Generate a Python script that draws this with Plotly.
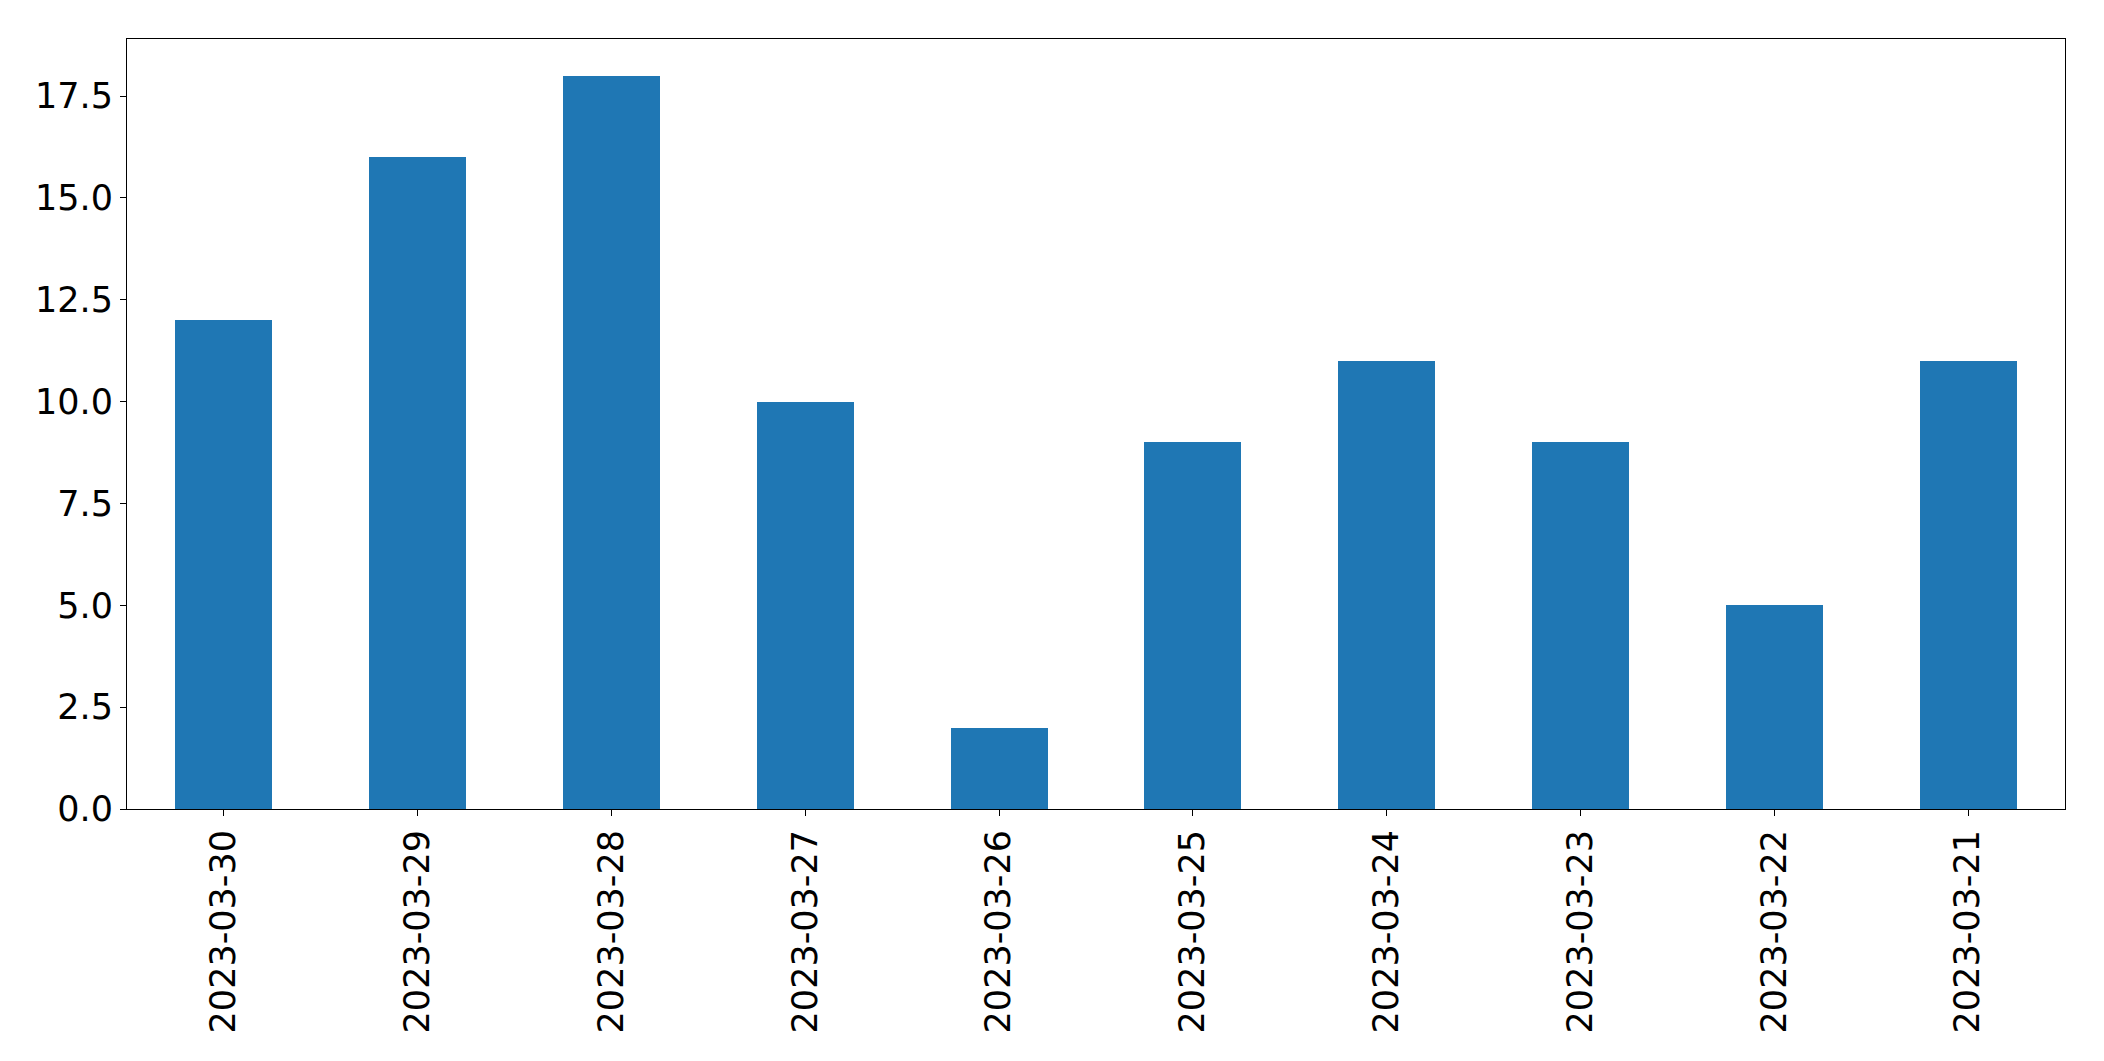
import plotly.graph_objects as go

dates = ["2023-03-30", "2023-03-29", "2023-03-28", "2023-03-27", "2023-03-26",
         "2023-03-25", "2023-03-24", "2023-03-23", "2023-03-22", "2023-03-21"]
counts = [12, 16, 18, 10, 2, 9, 11, 9, 5, 11]

fig = go.Figure(go.Bar(x=dates, y=counts, marker=dict(color="#1f77b4", line=dict(width=0)), width=0.5))

axis_common = dict(showline=True, linecolor="black", linewidth=1, mirror=True,
                   ticks="outside", ticklen=6, tickwidth=1, tickcolor="black",
                   showgrid=False, zeroline=False,
                   tickfont=dict(family="DejaVu Sans", size=35, color="black"))

fig.update_layout(
    width=2104, height=1061,
    margin=dict(l=127, r=39, t=39, b=252, autoexpand=False),
    plot_bgcolor="white", paper_bgcolor="white",
    showlegend=False,
    bargap=0,
    xaxis=dict(type="category", tickangle=-90, range=[-0.5, 9.5], automargin=False, **axis_common),
    yaxis=dict(range=[0, 18.9], tick0=0, dtick=2.5, tickformat=".1f", automargin=False, **axis_common),
)

fig.write_html("out.html")
